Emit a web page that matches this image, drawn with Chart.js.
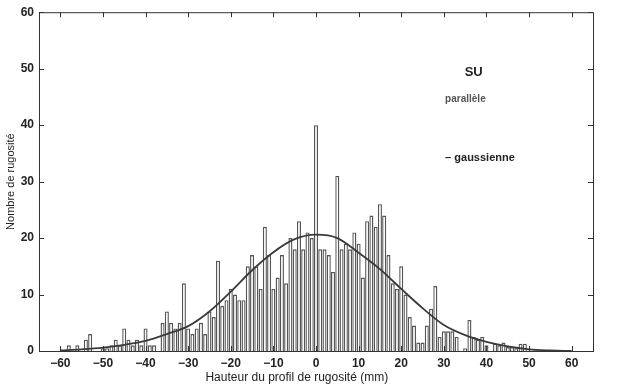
<!DOCTYPE html>
<html>
<head>
<meta charset="utf-8">
<script src="https://cdn.jsdelivr.net/npm/chart.js@4"></script>
<style>
  body { margin: 0; background: #fff; }
  #wrap { width: 619px; height: 390px; }
</style>
</head>
<body>
<div id="wrap"><canvas id="chart" width="619" height="390"></canvas></div>
<script>
// histogram bins (mm) and counts
const binCenters = [
  -58, -57, -56, -55, -54, -53, -52, -51, -50, -49, -48, -47, -46, -45, -44, -43, -42, -41, -40, -39,
  -38, -37, -36, -35, -34, -33, -32, -31, -30, -29, -28, -27, -26, -25, -24, -23, -22, -21, -20, -19,
  -18, -17, -16, -15, -14, -13, -12, -11, -10, -9, -8, -7, -6, -5, -4, -3, -2, -1, 0, 1,
  2, 3, 4, 5, 6, 7, 8, 9, 10, 11, 12, 13, 14, 15, 16, 17, 18, 19, 20, 21,
  22, 23, 24, 25, 26, 27, 28, 29, 30, 31, 32, 33, 34, 35, 36, 37, 38, 39, 40, 41,
  42, 43, 44, 45, 46, 47, 48, 49, 50
];
const counts = [
  1, 0, 1, 0, 2, 3, 0, 0, 0.5, 0.5, 1, 2, 1, 4, 2, 1, 2, 1, 4, 1,
  1, 0, 5, 7, 5, 4, 5, 12, 4, 3, 4, 5, 3, 7, 6, 16, 8, 9, 11, 10,
  9, 9, 15, 17, 15, 11, 22, 17, 11, 13, 17, 12, 20, 18, 23, 18, 21, 20, 40, 18,
  18, 17, 14, 31, 18, 19, 18, 21, 19, 13, 23, 24, 22, 26, 24, 17, 12, 11, 15, 10,
  6, 4.5, 1.5, 1.5, 4.5, 7.5, 11.5, 2.5, 3.5, 3.5, 3.5, 2.5, 0, 0.5, 5.5, 2.5, 2, 2.5, 1, 0,
  1.3, 1, 1.5, 0.7, 0.7, 0.5, 1.3, 1.3, 0
];

// fitted gaussian, read every 5 mm
const curveX = [-60, -55, -50, -45, -40, -35, -30, -25, -20, -15, -10, -5, 0, 5, 10, 15, 20, 25, 30, 35, 40, 45, 50, 55, 60];
const curveY = [0.1, 0.3, 0.6, 1.1, 1.8, 3.0, 4.4, 7.0, 10.5, 14.3, 17.5, 19.8, 20.6, 20.0, 17.4, 14.5, 11.0, 7.6, 4.6, 2.8, 1.6, 0.8, 0.3, 0.1, 0];

const xTicks = [-60, -50, -40, -30, -20, -10, 0, 10, 20, 30, 40, 50, 60];
const yTicks = [0, 10, 20, 30, 40, 50, 60];

const ink = '#333';
const font = 'Liberation Sans, Arial, sans-serif';

// matlab style frame with inward ticks plus the text labels in the plot
const framePlugin = {
  id: 'frame',
  afterDraw(chart) {
    const { ctx, chartArea: a, scales } = chart;
    ctx.save();
    ctx.strokeStyle = ink;
    ctx.lineWidth = 1;
    ctx.strokeRect(a.left + 0.5, a.top + 0.5, a.right - a.left, a.bottom - a.top);
    ctx.beginPath();
    xTicks.forEach(v => {
      const px = Math.round(scales.x.getPixelForValue(v)) + 0.5;
      ctx.moveTo(px, a.bottom); ctx.lineTo(px, a.bottom - 5);
      ctx.moveTo(px, a.top); ctx.lineTo(px, a.top + 5);
    });
    yTicks.forEach(v => {
      const py = Math.round(scales.y.getPixelForValue(v)) + 0.5;
      ctx.moveTo(a.left, py); ctx.lineTo(a.left + 5, py);
      ctx.moveTo(a.right, py); ctx.lineTo(a.right - 5, py);
    });
    ctx.stroke();

    ctx.fillStyle = '#222';
    ctx.textBaseline = 'middle';
    ctx.textAlign = 'center';
    // x axis title sits a bit left of the plot centre in the scan
    ctx.font = '12px ' + font;
    ctx.fillText('Hauteur du profil de rugosité (mm)', scales.x.getPixelForValue(-4.5), 378);
    ctx.font = 'bold 13px ' + font;
    ctx.fillText('SU', scales.x.getPixelForValue(37), scales.y.getPixelForValue(49.4));
    ctx.textAlign = 'left';
    ctx.fillStyle = '#555';
    ctx.font = 'bold 10px ' + font;
    ctx.fillText('parallèle', scales.x.getPixelForValue(30.3), scales.y.getPixelForValue(44.5));
    ctx.fillStyle = '#222';
    ctx.font = 'bold 11px ' + font;
    ctx.fillText('– gaussienne', scales.x.getPixelForValue(30.3), scales.y.getPixelForValue(34.2));
    ctx.restore();
  }
};

new Chart(document.getElementById('chart'), {
  data: {
    datasets: [
      {
        type: 'line',
        data: curveX.map((x, i) => ({ x: x, y: curveY[i] })),
        borderColor: '#3a3a3a',
        borderWidth: 1.8,
        pointRadius: 0,
        cubicInterpolationMode: 'monotone',
        fill: false,
        order: 0
      },
      {
        type: 'bar',
        data: binCenters.map((x, i) => ({ x: x, y: counts[i] })),
        backgroundColor: '#fff',
        borderColor: '#555',
        borderWidth: 1.4,
        borderSkipped: 'bottom',
        categoryPercentage: 1,
        barPercentage: 0.95,
        order: 1
      }
    ]
  },
  options: {
    responsive: false,
    animation: false,
    layout: { padding: { top: 12, right: 26, left: 0, bottom: 0 } },
    plugins: { legend: { display: false }, tooltip: { enabled: false } },
    scales: {
      x: {
        type: 'linear',
        min: -60,
        max: 60,
        afterFit: s => { s.height = 39; },
        afterBuildTicks: s => { s.ticks = xTicks.map(v => ({ value: v })); },
        grid: { display: false, drawTicks: false },
        border: { display: false },
        ticks: {
          padding: 5,
          color: '#222',
          font: { family: font, size: 12, weight: 'bold' },
          maxRotation: 0,
          callback: v => (v < 0 ? '−' + Math.abs(v) : String(v))
        }
      },
      y: {
        min: 0,
        max: 60,
        afterFit: s => { s.width = 39; },
        afterBuildTicks: s => { s.ticks = yTicks.map(v => ({ value: v })); },
        grid: { display: false, drawTicks: false },
        border: { display: false },
        ticks: {
          padding: 5,
          color: '#222',
          font: { family: font, size: 12, weight: 'bold' }
        },
        title: {
          display: true,
          text: 'Nombre de rugosité',
          color: '#222',
          font: { family: font, size: 11 },
          padding: { top: 4, bottom: 0 }
        }
      }
    }
  },
  plugins: [framePlugin]
});
</script>
</body>
</html>
